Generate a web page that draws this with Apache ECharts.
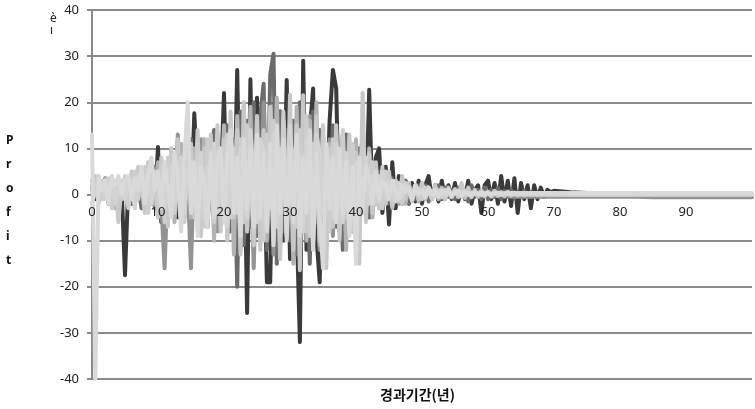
<!DOCTYPE html>
<html>
<head>
<meta charset="utf-8">
<script src="https://cdn.jsdelivr.net/npm/echarts@6/dist/echarts.min.js"></script>
<style>
  html, body { margin: 0; padding: 0; background: #fff; }
  #chart { width: 755px; height: 409px; }
</style>
</head>
<body>
<div id="chart"></div>
<script>
// x positions: every half year up to 70, then every 2.5 years to 100
const xs = []
for (let i = 0; i <= 140; i++) xs.push(i / 2)
for (let x = 72.5; x <= 100; x += 2.5) xs.push(x)

const yTicks = [-40, -30, -20, -10, 0, 10, 20, 30, 40]
const xTicks = [0, 10, 20, 30, 40, 50, 60, 70, 80, 90]

const seriesA = [
  2, -1, 3, 0.5, 3.5, -2, 2, -1.5, 3, 1,
  -17.5, 2, -2, 4, 1, 5, -3, 3, 6, -2,
  10.3, -6, 4, -4, 7, 2, -5, 8, -3, 6,
  -4, 17.6, 3, -6, 9, -5, 11, -4, 7, 2,
  22, -8, 14, -6, 27, -10, 16, -25.7, 25, -12,
  21, -8, 12, -19, -19, 15, -6, 18, -10, 24.8,
  -14, 12, -6, -32, 29, -12, 14, 23, -9, -19,
  12, -6, 16, 27, 23, -8, 13, -5, 9, -8,
  11, -5, 15, -4, 22.7, -3, 8, 10, -4, 6,
  -6.5, 7, -3, 4, -2, 3, -2, 2.5, -1.5, 3,
  -2, 2, 4, -1, 2, -1.5, 3, -1, 2, -1,
  2.5, -1.5, 2, -1, 3, -2, 1, 2, -4, 2,
  3, -1, 2.5, -2, 4, -1.5, 3, -2.5, 3.5, -4,
  2.5, -1, 2, -3, 2, -1, 1.5, -0.5, 1, 0.5,
  0.8,
  0.5, 0.3, 0.2, 0.1, 0, 0, 0, 0, 0, 0, 0, 0
]
const seriesB = [
  1, 3, -0.5, 2, 1, -1, 2.5, 0, 1.5, -1,
  3, 0.5, -2, 4, 2, -3, 5, 1, -2, 6,
  -3, 5, 2, -6, 8, -3, 6, 9, -5, 5,
  12, -4, 8, -2, 10, -7, 6, 14, -5, 9,
  -6, 15, -8, 12, -20, 18, -11, 16, -7, 20,
  -9, 17, 24, -12, 26, 30.5, -15, 18, -8, 14,
  -10, 16, -13, 20, -7, 12, -15, 18, -6, 14,
  -9, 11, -5, 15, -7, 9, -12, 13, -4, 8,
  -6, 10, -3, 7, -5, 6, -2, 5, -3, 4,
  -2, 3.5, -1.5, 2.5, -1, 3, -2, 1.5, -1, 2,
  -1, 2, -1.5, 1, 0.5, 2, -1, 1.5, -0.5, 1,
  -1, 1.5, 0, 1, -1.5, 2, -0.5, 1, -1, 1.5,
  -1, 1, -0.5, 1.5, -1, 0.8, -0.5, 1, -0.8, 0.5,
  -0.5, 0.8, -0.3, 0.5, -0.3, 0.4, -0.2, 0.3, -0.2, 0.2,
  -0.2,
  -0.1, 0, 0, 0, 0, 0, 0, 0, 0, 0, 0, 0
]
const seriesC = [
  0, -0.5, -0.5, -0.5, -0.5, -0.5, -0.5, -0.5, -0.5, 2,
  -1, 3, 1, -2, 5, 0, 3, -1, 4, -3,
  6, -2, -16, 4, 8, -3, 13, -5, 7, 2,
  -16, 9, -4, 12, -6, 8, -3, 10, -8, 7,
  13, -9, 10, -6, 16, -12, 19, -8, 14, -16,
  12, -10, 20, -7, 15, -13, 18, -9, 11, -6,
  16, -11, 9, -14, 13, -5, 17, -10, 8, -12,
  10, -6, 12, -9, 7, -4, 9, -7, 6, -3,
  8, -5, 5, -2, 6, -4, 3, -2, 4, -1.5,
  2.5, -1, 3, -2, 1.5, -1, 2, -0.5, 1.5, -1,
  1, -0.5, 1.5, -1, 0.8, -0.8, 1, -0.5, 0.5, -0.6,
  0.8, -0.4, 0.5, -0.5, 0.6, -0.3, 0.4, -0.5, 0.3, -0.4,
  0.3, -0.5, -0.2, -0.4, 0.2, -0.5, -0.3, -0.5, -0.4, -0.5,
  -0.5, -0.5, -0.5, -0.5, -0.5, -0.5, -0.5, -0.5, -0.5, -0.5,
  -0.5,
  -0.5, -0.5, -0.5, -0.5, -0.5, -0.6, -0.6, -0.6, -0.6, -0.6, -0.6, -0.6
]
const seriesD = [
  3, 1, 2.5, -1, 3.5, 0, 2, -3, 3, 1,
  2, -2, 4, 1, -1, 5, -3, 4, 2, -2,
  7, -4, 5, -2, 9, -6, 6, 11, -3, 8,
  -5, 10, 6, -8, 12, -4, 9, -10, 13, -6,
  15, -7, 11, -13, 17, -9, 14, -6, 19, -11,
  16, -8, 13, -10, 18, -7, 21, -12, 15, -9,
  14, -15, 19, -8, 12, -10, 16, -7, 20, -11,
  13, -9, 11, -6, 14, -8, 10, -12, 9, -5,
  12, -7, 8, -4, 10, -5, 6, -3, 5, -2,
  4, -3, 3, -1.5, 2.5, -2, 2, -1, 1.5, -1.5,
  2, -1, 1.5, -0.5, 1, -1, 1.5, -0.8, 1, -0.5,
  1.2, -0.6, 0.8, -0.8, 1, -0.4, 0.6, -0.5, 0.8, -0.3,
  0.5, -0.4, 0.6, -0.3, 0.4, -0.3, 0.5, -0.2, 0.3, -0.2,
  0.3, -0.2, 0.2, -0.1, 0.2, -0.1, 0.1, 0, 0.1, 0,
  0,
  0, 0, 0, 0, 0, 0, 0, 0, 0, 0, 0, 0
]
const seriesE = [
  1, 4, -2, 3, 0, 2.5, -1, 3, -6, 2,
  3, -1, 5, -2, 6, 2, -4, 7, -1, 4,
  -5, 8, 3, -7, 10, -3, 12, -6, 9, 4,
  11, -5, 14, -9, 10, -6, 13, -4, 15, -8,
  12, -10, 18, -5, 14, -13, 20, -8, 13, -11,
  17, -12, 14, -6, 19, -10, 12, -14, 16, -9,
  21.6, -12, 15, -16.4, 21.5, -8, 13, -11, 17, -7,
  12, -16, 10, -7, 15, -10, 11, -5, 13, -8,
  9, -15, 22, -6, 9, -4, 7, -3, 6, -2,
  5, -2.5, 3, -1.5, 4, -1, 2.5, -1.5, 2, -1,
  2.5, -0.8, 1.5, -1, 2, -0.5, 1.2, -1, 1.5, -0.6,
  1, -0.5, 2.5, -0.4, 1.5, -0.6, 1, -0.3, 0.8, -0.4,
  0.6, -0.3, 0.8, -0.2, 0.5, -0.3, 0.6, -0.2, 0.4, -0.2,
  0.3, -0.1, 0.3, 0, 0.2, 0, 0.2, 0, 0.1, 0,
  0.1,
  0, 0, 0, 0, 0, 0, 0, 0, 0, 0, 0, 0
]
const seriesF = [
  13, -40, 4, 1, 3, -2, 3.5, 2, 4, 0,
  3, 4, -1, 3.5, 1, 6, -2, 4, 8, 1,
  5, -3, 7, 2, -5, 9, 4, -8, 8, 20,
  -4, 7, -9, 6, 3, -7, 9, -5, 8, 10,
  -6, 9, 14, -4, 8, -9, 12, -3, 10, -7,
  13, -5, 9, -8, 11, -11, 15, -4, 12, -10,
  10, -6, 13, -9, 8, -4, 14, -12, 9, -5,
  -16, 11, -3, 8, -6, 10, -4, 7, -9, 6,
  -15, 8, -3, 6, 4, -2, 5, -1, 3, 2,
  -1, 3, 1, -1, 2, 0.5, 1.5, -1, 2, 0,
  1, -0.5, 1.5, 0, 1, -0.5, 0.8, 0.2, 1, -0.3,
  0.5, 0.8, -0.2, 0.6, 0.3, -0.2, 0.5, 0.2, 0.4, 0,
  0.4, 0.1, 0.3, 0.4, 0.2, 0.3, 0.4, 0.3, 0.3, 0.3,
  0.3, 0.3, 0.3, 0.3, 0.3, 0.3, 0.3, 0.3, 0.3, 0.3,
  0.3,
  0.3, 0.3, 0.3, 0.3, 0.3, 0.3, 0.3, 0.3, 0.3, 0.3, 0.3, 0.3
]
const seriesG = [
  -2, 2, 4, -1, 2, 3.5, -3, 1, 2.5, -1,
  4, -3, 2, 5, -1, 3, 6, -4, 2, 5,
  -2, 6, -6, 8, 3, -4, 7, 1, -6, 9,
  5, -3, 11, 2, -7, 12, 4, -6, 10, -3,
  9, 13, -5, 10, -2, 12, -6, 15, 3, -8,
  11, 7, -10, 13, -3, 16, 5, -9, 18, -4,
  12, 8, -7, 14, -5, 17, -9, 11, 4, -10,
  15, 3, -8, 12, 6, -6, 14, -3, 8, 11,
  -4, 6, 10, -3, 5, 7, -2, 4, -3, 5,
  2, -1.5, 3, 1, -2, 2.5, 0.5, -1, 2, 1,
  -1, 1.5, 0.5, -0.8, 1.2, 0.3, -0.6, 1, 0.2, -0.5,
  0.8, 0.2, -0.4, 0.6, 0.1, -0.3, 0.5, 0.3, -0.2, 0.4,
  0.2, -0.2, 0.3, 0.1, -0.1, 0.2, 0.1, 0, 0.2, 0,
  0.1, 0, 0.1, 0, 0.1, 0, 0, 0.1, 0, 0,
  0,
  0, 0, 0, 0, 0, 0, 0, 0, 0, 0, 0, 0
]
const seriesH = [
  2, 0, 3, 2, -1, 1, 4, -2, 1, 3,
  -1, 2, 3, -3, 4, 1, 2, 5, -2, 3,
  4, 1, -3, 5, 6, -2, 3, 8, -4, 5,
  7, -2, 4, 9, -5, 6, 2, 11, -4, 8,
  3, -7, 12, 6, -4, 10, 8, -5, 14, 4,
  -6, 12, 9, -4, 8, 13, -7, 10, 6, -5,
  15, -3, 10, 7, -8, 12, 5, -6, 13, 9,
  -4, 10, 6, -5, 11, 3, -6, 9, 4, -3,
  7, 2, -4, 8, -2, 4, 3, -1.5, 5, -1,
  3, 1, -1.5, 2.5, -0.5, 2, 1, -1, 1.5, 0.5,
  1, -0.5, 1.2, 0.4, -0.3, 0.9, 0.5, -0.4, 0.7, 0.2,
  0.5, -0.2, 0.6, 0.3, -0.1, 0.4, 0.2, 0, 0.3, 0.1,
  0.2, 0, 0.2, 0.1, 0, 0.1, 0.1, 0, 0.1, 0,
  0, 0, 0, 0, 0, 0, 0, 0, 0, 0,
  0,
  0, 0, 0, 0, 0, 0, 0, 0, 0, 0, 0, 0
]

const allSeries = [
  {values: seriesA, color: '#3a3a3a'},
  {values: seriesB, color: '#6b6b6b'},
  {values: seriesC, color: '#939393'},
  {values: seriesD, color: '#b3b3b3'},
  {values: seriesE, color: '#c8c8c8'},
  {values: seriesG, color: '#cdcdcd'},
  {values: seriesH, color: '#d3d3d3'},
  {values: seriesF, color: '#d9d9d9'}
]

const chart = echarts.init(document.getElementById('chart'))
const font = '"Noto Sans", "Liberation Sans", sans-serif'

chart.setOption({
  animation: false,
  grid: {left: 92, right: 0, top: 10, bottom: 30},
  xAxis: {
    type: 'value',
    min: 0,
    max: 100,
    interval: 10,
    // pulled up to the zero line, labels drawn over the lines
    offset: -184.5,
    z: 10,
    axisLine: {show: false},
    axisTick: {show: false},
    splitLine: {show: false},
    axisLabel: {
      margin: 11,
      fontSize: 13,
      fontFamily: font,
      color: '#222',
      formatter: v => xTicks.includes(v) ? String(v) : ''
    }
  },
  yAxis: {
    type: 'value',
    min: yTicks[0],
    max: yTicks[yTicks.length - 1],
    interval: 10,
    axisLine: {show: true, lineStyle: {color: '#8a8a8a', width: 2}},
    axisTick: {show: true, length: 5, lineStyle: {color: '#8a8a8a', width: 2}},
    splitLine: {show: true, lineStyle: {color: '#8a8a8a', width: 2}},
    axisLabel: {margin: 13, fontSize: 13, fontFamily: font, color: '#222'}
  },
  series: allSeries.map(s => ({
    type: 'line',
    data: xs.map((x, i) => [x, s.values[i]]),
    showSymbol: false,
    symbol: 'none',
    sampling: null,
    lineStyle: {color: s.color, width: 4, cap: 'round', join: 'round'}
  })),
  graphic: [
    {
      type: 'text',
      left: 6,
      top: 129,
      style: {
        text: 'P\nr\no\nf\ni\nt',
        font: 'bold 12px ' + font,
        lineHeight: 24,
        align: 'center',
        fill: '#111'
      }
    },
    {
      type: 'text',
      left: 50,
      top: 13,
      style: {text: 'è\nı', font: '12px ' + font, lineHeight: 12, fill: '#222'}
    },
    {
      type: 'text',
      left: 380,
      top: 388,
      style: {text: '경과기간(년)', font: 'bold 14px "Noto Sans CJK KR", sans-serif', fill: '#111'}
    }
  ]
})
</script>
</body>
</html>
